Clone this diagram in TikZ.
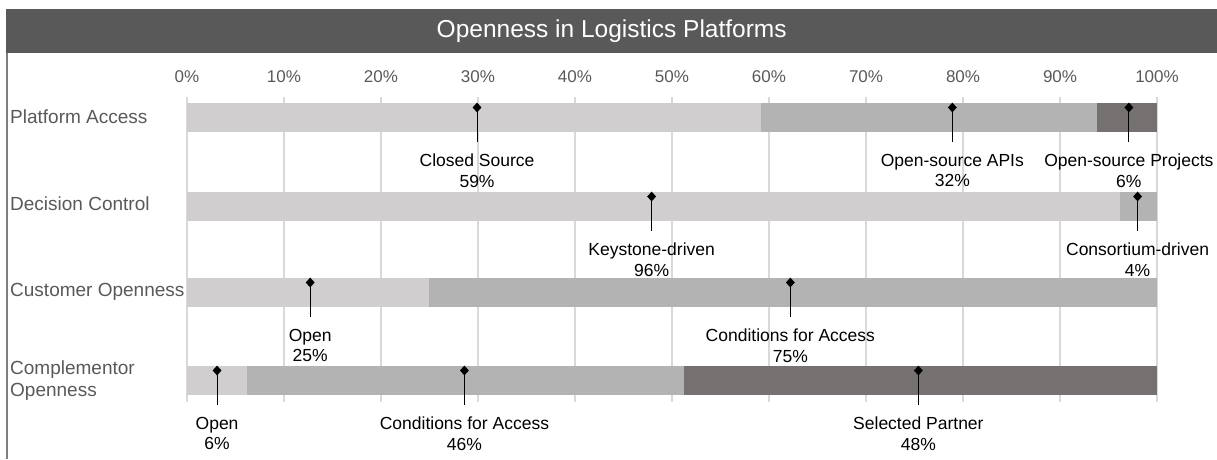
\documentclass[tikz,border=0pt]{standalone}
\usepackage{fontspec}
\setmainfont{Liberation Sans}
\usepackage{xcolor}
\usepackage{tikz}
\usetikzlibrary{positioning}
\usetikzlibrary{shapes.geometric}

\definecolor{titlegray}{HTML}{595959}
\definecolor{textgray}{HTML}{595959}
\definecolor{bordergray}{HTML}{7F7F7F}
\definecolor{gridgray}{HTML}{D9D9D9}
\definecolor{barlight}{HTML}{D0CECE}
\definecolor{barmid}{HTML}{B3B3B3}
\definecolor{bardark}{HTML}{767171}

\begin{document}
\begin{tikzpicture}[
  x=1pt, y=-1pt,
  font=\fontsize{17.5}{20.5}\selectfont
]
\tikzset{
    catname/.style = {anchor=west, align=left, inner sep=0, text=textgray, font=\fontsize{19}{22}\selectfont},
    ticknum/.style = {inner sep=0, text=textgray, font=\fontsize{17}{20}\selectfont},
    marker/.style = {diamond, fill=black, inner sep=0, minimum width=9pt, minimum height=10pt},
    barnote/.style = {align=center, anchor=north, inner xsep=0, inner ysep=12pt},
    leader/.style = {draw=black, line width=1pt},
}
\useasboundingbox (0,0) rectangle (1217,459);
% title and frame
\node[fill=titlegray, anchor=north west, minimum width=1211pt, minimum height=44pt, inner sep=0,
  text=white, font=\fontsize{24.5}{28}\selectfont] (title) at (6,9) {Openness in Logistics Platforms};
\coordinate (framebottom) at (6.75,459);
\draw[bordergray, line width=1.5pt] ([xshift=0.75pt]title.south west) -- (framebottom);
% row names
\node[catname] (access) at (10,117) {Platform Access};
\node[catname] (decision) at (10,204) {Decision Control};
\node[catname] (customer) at (10,292) {Customer Openness};
\node[catname] (complementor) at (10,381) {Complementor\\Openness};

\begin{scope}[xshift=187pt, x=9.7pt]
% grid
\foreach \p in {0,10,...,100} {
  \draw[gridgray, line width=1.5pt] (\p,97) -- (\p,402);
  \node[ticknum] (tick\p) at (\p,77) {\p\%};
}
% Platform Access
\fill[barlight] (0,103) rectangle (59.2,132);
\fill[barmid] (59.2,103) rectangle (93.8,132);
\fill[bardark] (93.8,103) rectangle (100,132);
\node[marker] (closed) at (29.9,107.5) {};
\node[marker] (apis) at (78.9,107.5) {};
\node[marker] (projects) at (97.1,107.5) {};
\node[barnote, below=29pt of closed] (closedtxt) {Closed Source\\59\%};
\node[barnote, below=29pt of apis] (apistxt) {Open-source APIs\\32\%};
\node[barnote, below=29pt of projects] (projectstxt) {Open-source Projects\\6\%};
\draw[leader] (closed.center) -- (closedtxt.north);
\draw[leader] (apis.center) -- (apistxt.north);
\draw[leader] (projects.center) -- (projectstxt.north);
% Decision Control
\fill[barlight] (0,192) rectangle (96.2,221);
\fill[barmid] (96.2,192) rectangle (100,221);
\node[marker] (keystone) at (47.9,196.5) {};
\node[marker] (consortium) at (98.0,196.5) {};
\node[barnote, below=29pt of keystone] (keystonetxt) {Keystone-driven\\96\%};
\node[barnote, below=29pt of consortium] (consortiumtxt) {Consortium-driven\\4\%};
\draw[leader] (keystone.center) -- (keystonetxt.north);
\draw[leader] (consortium.center) -- (consortiumtxt.north);
% Customer Openness
\fill[barlight] (0,278) rectangle (24.9,307);
\fill[barmid] (24.9,278) rectangle (100,307);
\node[marker] (custopen) at (12.7,282.5) {};
\node[marker] (custcond) at (62.2,282.5) {};
\node[barnote, below=29pt of custopen] (custopentxt) {Open\\25\%};
\node[barnote, below=29pt of custcond] (custcondtxt) {Conditions for Access\\75\%};
\draw[leader] (custopen.center) -- (custopentxt.north);
\draw[leader] (custcond.center) -- (custcondtxt.north);
% Complementor Openness
\fill[barlight] (0,366) rectangle (6.2,395);
\fill[barmid] (6.2,366) rectangle (51.2,395);
\fill[bardark] (51.2,366) rectangle (100,395);
\node[marker] (compopen) at (3.1,370.5) {};
\node[marker] (compcond) at (28.6,370.5) {};
\node[marker] (partner) at (75.4,370.5) {};
\node[barnote, below=29pt of compopen] (compopentxt) {Open\\6\%};
\node[barnote, below=29pt of compcond] (compcondtxt) {Conditions for Access\\46\%};
\node[barnote, below=29pt of partner] (partnertxt) {Selected Partner\\48\%};
\draw[leader] (compopen.center) -- (compopentxt.north);
\draw[leader] (compcond.center) -- (compcondtxt.north);
\draw[leader] (partner.center) -- (partnertxt.north);
\end{scope}
\end{tikzpicture}
\end{document}
